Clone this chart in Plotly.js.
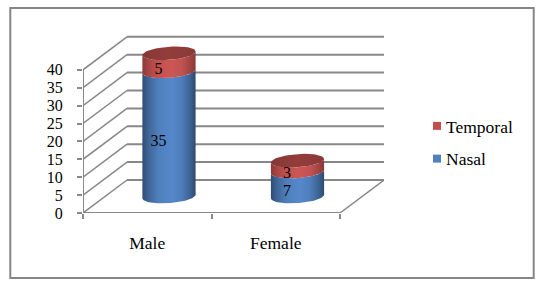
<!DOCTYPE html>
<html>
<head>
<meta charset="utf-8">
<script src="https://cdn.plot.ly/plotly-3.0.1.min.js"></script>
<style>html,body{margin:0;padding:0;background:#fff}#chart{width:544px;height:288px}</style>
</head>
<body>
<div id="chart"></div>
<script>
// ---- data ----
const categories = ['Male', 'Female'];
const nasal = [35, 7];
const temporal = [5, 3];
const yTicks = [0, 5, 10, 15, 20, 25, 30, 35, 40];

// ---- oblique projection, in axis units ----
const pxX = 128.5, pxY = 3.58;          // pixels per axis unit
const L = 83, R = 384, T = 30, B = 213; // plot box in pixels
const W = 544, H = 288;
const xMax = (R - L) / pxX, yMax = (B - T) / pxY;
const depthX = 44 / pxX, depthY = 33 / pxY;
const floorEnd = categories.length;
const radX = 26.6 / pxX, radY = 6.6 / pxY, skew = 1.8 / pxY;
const centerShift = depthX / 2 - 0.002, baseShift = depthY / 2;
const labelDX = -10.5 / pxX, labelDY = -8 / pxY;

const blueScale = [[0,'#2f4d74'],[0.12,'#3f6698'],[0.3,'#4f7fbc'],[0.55,'#5688ca'],[0.75,'#4d7cb8'],[0.9,'#3c6291'],[1,'#2d4a6e']];
const redScale  = [[0,'#8a3937'],[0.12,'#a84644'],[0.3,'#c25250'],[0.55,'#cd5654'],[0.75,'#bf5250'],[0.9,'#a04442'],[1,'#873836']];
const capScale  = [[0,'#853735'],[0.5,'#933d3b'],[1,'#8a3937']];

const traces = [];
const GRID = '#888888';

function line(x, y, width) {
  traces.push({type:'scatter', mode:'lines', x, y, showlegend:false, hoverinfo:'skip', cliponaxis:false,
               line:{color:GRID, width}});
}
// walls and floor
yTicks.forEach(v => {
  line([0, depthX], [v, v + depthY], 1.5);
  line([depthX, xMax], [v + depthY, v + depthY], 2);
});
line([0, 0], [0, yTicks[yTicks.length - 1]], 2);
line([0, floorEnd], [0, 0], 2);
line([floorEnd, xMax], [0, depthY], 1.5);

// one ellipse arc, as axis coordinates
function arc(cx, cy, from, to) {
  const xs = [], ys = [], n = 48;
  for (let i = 0; i <= n; i++) {
    const t = from + (to - from) * i / n;
    xs.push(cx + radX * Math.cos(t));
    ys.push(cy + radY * Math.sin(t) + skew * Math.cos(t));
  }
  return [xs, ys];
}
function body(cx, y0, y1, scale) {
  const [bx, by] = arc(cx, y0, Math.PI, 2 * Math.PI); // front of the lower rim, left to right
  const [tx, ty] = arc(cx, y1, 2 * Math.PI, Math.PI); // front of the upper rim, right to left
  traces.push({type:'scatter', mode:'lines', x:bx.concat(tx), y:by.concat(ty), fill:'toself',
               fillgradient:{type:'horizontal', colorscale:scale}, line:{width:0, color:'rgba(0,0,0,0)'},
               showlegend:false, hoverinfo:'skip', cliponaxis:false});
}
function cap(cx, cy, scale) {
  const [x, y] = arc(cx, cy, 0, 2 * Math.PI);
  traces.push({type:'scatter', mode:'lines', x, y, fill:'toself',
               fillgradient:{type:'horizontal', colorscale:scale}, line:{width:0, color:'rgba(0,0,0,0)'},
               showlegend:false, hoverinfo:'skip', cliponaxis:false});
}
categories.forEach((c, i) => {
  const cx = i + 0.5 + centerShift;
  const a = baseShift, b = a + nasal[i], d = b + temporal[i];
  body(cx, a, b, blueScale);
  body(cx, b, d, redScale);
  cap(cx, d, capScale);
});

// data labels
traces.push({type:'scatter', mode:'text', showlegend:false, hoverinfo:'skip', cliponaxis:false,
  x: categories.flatMap((c, i) => [i + 0.5 + centerShift + labelDX, i + 0.5 + centerShift + labelDX]),
  y: categories.flatMap((c, i) => [baseShift + nasal[i] / 2 + labelDY, baseShift + nasal[i] + temporal[i] / 2 + labelDY]),
  text: categories.flatMap((c, i) => [String(nasal[i]), String(temporal[i])]),
  textposition:'middle center', textfont:{family:'Liberation Serif', size:16, color:'#000'}});

// legend entries
traces.push({type:'scatter', mode:'markers', x:[null], y:[null], name:'Temporal', legendgroup:'t',
             marker:{symbol:'square', size:8, color:'#c0504d'}});
traces.push({type:'scatter', mode:'markers', x:[null], y:[null], name:'Nasal', legendgroup:'n',
             marker:{symbol:'square', size:8, color:'#4f81bd'}});

const px2x = p => (p - L) / (R - L), px2y = p => (B - p) / (B - T);
const layout = {
  width:W, height:H, paper_bgcolor:'#fff', plot_bgcolor:'rgba(0,0,0,0)',
  margin:{l:L, r:W - R, t:T, b:H - B, pad:0},
  font:{family:'Liberation Serif', size:16, color:'#000'},
  showlegend:true,
  legend:{x:px2x(406), y:px2y(108), xanchor:'left', yanchor:'top', tracegroupgap:7,
          font:{family:'Liberation Serif', size:17.5, color:'#000'}, bgcolor:'rgba(0,0,0,0)'},
  xaxis:{range:[0, xMax], tickmode:'array', tickvals:categories.map((c, i) => i + 0.5), ticktext:categories,
         tickfont:{family:'Liberation Serif', size:17.5, color:'#000'},
         ticks:'', ticklen:0, showgrid:false, zeroline:false, showline:false, fixedrange:true,
         ticklabelstandoff:17,
         minor:{tickmode:'array', tickvals:[0, 1, 2], ticks:'outside', ticklen:5, tickwidth:2, tickcolor:GRID, showgrid:false}},
  yaxis:{range:[0, yMax], tickmode:'array', tickvals:yTicks, ticks:'outside', ticklen:5, tickwidth:2, tickcolor:GRID,
         showgrid:false, zeroline:false, showline:false, fixedrange:true, ticklabelstandoff:11},
  shapes:[{type:'rect', xref:'paper', yref:'paper', x0:px2x(10.3), x1:px2x(533.7), y0:px2y(278), y1:px2y(8),
           line:{color:'#868686', width:2}, fillcolor:'rgba(0,0,0,0)', layer:'below'}]
};
Plotly.newPlot('chart', traces, layout, {displayModeBar:false, staticPlot:true}).then(() => {
  // the swatch sits close to its label, as in the reference
  document.querySelectorAll('.legend .legendsymbols').forEach(el => el.setAttribute('transform', 'translate(11,0)'));
});
</script>
</body>
</html>
